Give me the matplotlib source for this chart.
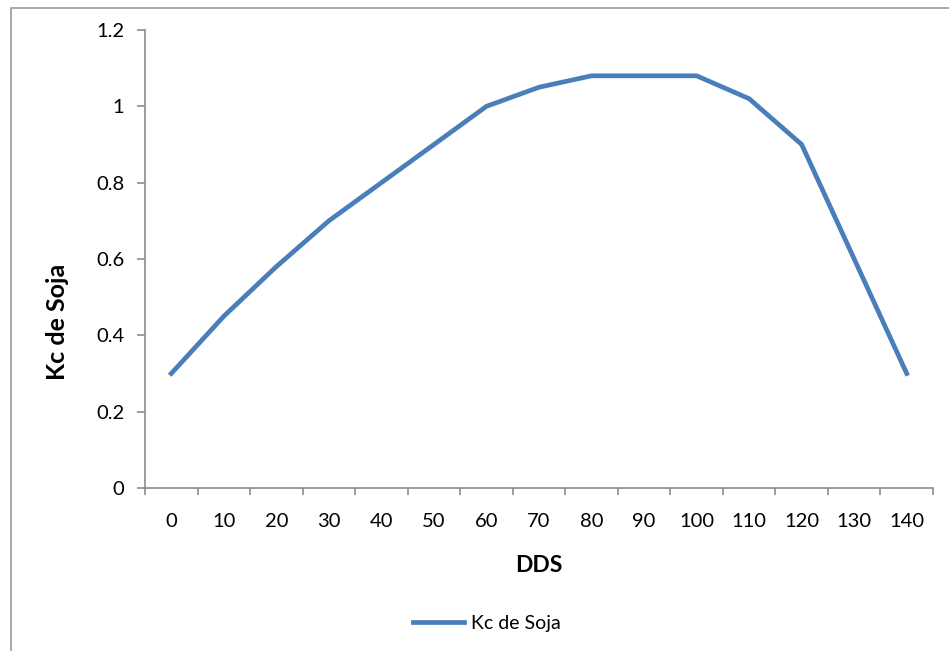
import matplotlib
matplotlib.use("Agg")
import matplotlib.pyplot as plt
from matplotlib.patches import Rectangle
import numpy as np

# Kc curve for soybean by days after sowing
dds = [0, 10, 20, 30, 40, 50, 60, 70, 80, 90, 100, 110, 120, 130, 140]
kc_soja = [0.30, 0.45, 0.58, 0.70, 0.80, 0.90, 1.00, 1.05, 1.08, 1.08, 1.08, 1.02, 0.90, 0.60, 0.30]
y_ticks = [0, 0.2, 0.4, 0.6, 0.8, 1, 1.2]
y_ticklabels = ["0", "0.2", "0.4", "0.6", "0.8", "1", "1.2"]

plt.rcParams['font.family'] = ['Lato', 'DejaVu Sans']
axis_gray = "#8c8c8c"

fig = plt.figure(figsize=(9.49, 6.51), dpi=100)
fig.patch.set_facecolor("white")

# chart area border (runs past the right and bottom edges)
fig.patches.append(Rectangle((11 / 949, -0.1), 1.2, 0.1 + (1 - 8 / 651),
                             transform=fig.transFigure, fill=False,
                             edgecolor="#999999", linewidth=1.2))

ax = fig.add_axes([145 / 949, 1 - 488 / 651, (933 - 145) / 949, (488 - 30) / 651])
x = np.arange(len(dds))
line, = ax.plot(x, kc_soja, color="#4a7ebb", linewidth=3.4,
                solid_joinstyle="round", label="Kc de Soja")

ax.set_xlim(-0.5, len(dds) - 0.5)
ax.set_ylim(0, 1.2)
ax.set_yticks(y_ticks)
ax.set_yticklabels(y_ticklabels, fontsize=14.5)
ax.set_xticks(x)
ax.set_xticklabels([str(d) for d in dds], fontsize=14.5)
ax.set_xticks(np.arange(-0.5, len(dds)), minor=True)
ax.tick_params(axis="x", which="major", length=0, pad=18)
ax.tick_params(axis="x", which="minor", length=5, color=axis_gray, width=1.2)
ax.tick_params(axis="y", length=6, color=axis_gray, width=1.2, pad=9)

for side in ["top", "right"]:
    ax.spines[side].set_visible(False)
for side in ["left", "bottom"]:
    ax.spines[side].set_color(axis_gray)
    ax.spines[side].set_linewidth(1.2)

ax.set_xlabel("DDS", fontsize=16.5, fontweight="bold")
ax.set_ylabel("Kc de Soja", fontsize=18, fontweight="bold")
ax.xaxis.set_label_coords(0.5, (488 - 555) / 458)
ax.yaxis.set_label_coords((69 - 145) / 788, 0.5 - (322 - 259) / 458)

fig.legend(handles=[line], loc="center", bbox_to_anchor=(487 / 949, 1 - 623 / 651),
           frameon=False, fontsize=14, handlelength=2.6, handletextpad=0.4)

fig.savefig("out.png", dpi=100, facecolor="white")
